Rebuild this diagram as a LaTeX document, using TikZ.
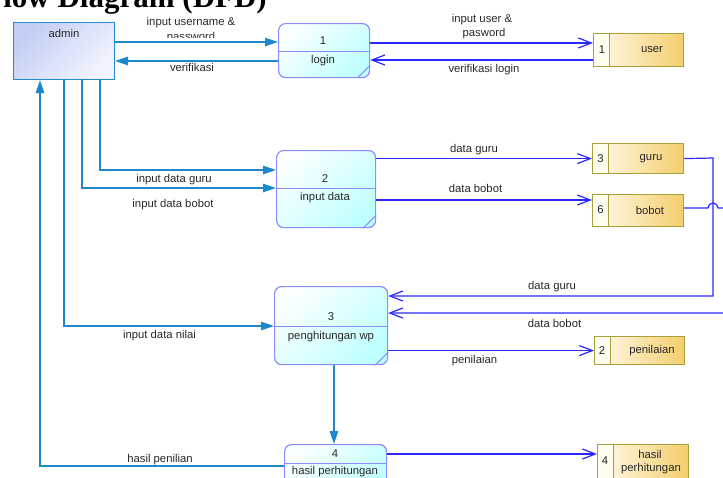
\documentclass[tikz,border=0pt]{standalone}
\usepackage{fontspec}
\setmainfont{Liberation Sans}
\newfontfamily\titlefont{Liberation Serif}
\usetikzlibrary{arrows.meta,calc}

\definecolor{entline}{RGB}{40,138,200}
\definecolor{enttop}{RGB}{194,206,244}
\definecolor{entbot}{RGB}{242,244,253}
\definecolor{procline}{RGB}{140,140,255}
\definecolor{proctop}{RGB}{250,255,255}
\definecolor{procbot}{RGB}{192,255,255}
\definecolor{storeline}{RGB}{168,160,60}
\definecolor{storecell}{RGB}{255,252,240}
\definecolor{storelight}{RGB}{255,250,236}
\definecolor{storegold}{RGB}{244,206,108}
\definecolor{flowa}{RGB}{30,136,204}
\definecolor{flowb}{RGB}{40,40,255}
\definecolor{txtgray}{RGB}{40,40,40}

\begin{document}
\begin{tikzpicture}[x=1pt,y=-1pt,
  txt/.style={text=txtgray, font=\fontsize{11.3}{13}\selectfont, inner sep=0pt},
  entity/.style={draw=entline, line width=1pt, top color=enttop, bottom color=entbot,
    shading angle=45, inner sep=0pt, anchor=north west},
  process/.style={draw=procline, line width=1.2pt, rounded corners=7pt, top color=proctop,
    bottom color=procbot, shading angle=45, inner sep=0pt, anchor=north west},
  store/.style={draw=storeline, line width=1.2pt, left color=storelight, right color=storegold,
    inner sep=0pt, anchor=north west,
    path picture={
      \fill[storecell] (path picture bounding box.north west)
        rectangle ([xshift=16pt]path picture bounding box.south west);
      \draw[storeline, line width=1.2pt] ([xshift=16pt]path picture bounding box.north west)
        -- ([xshift=16pt]path picture bounding box.south west);
    }},
  divider/.style={draw=procline, line width=1pt},
  flowa/.style={draw=flowa, line width=1.2pt, -{Triangle[length=13pt,width=8.5pt]}},
  flowb/.style={draw=flowb, line width=1.2pt, -{Straight Barb[length=13pt,width=10pt]}},
]
\useasboundingbox (0,0) rectangle (723,477);
\clip (0,0) rectangle (723,477);

% heading
\node[anchor=base east, inner sep=0pt, font=\titlefont\bfseries\fontsize{31}{31}\selectfont]
  (title) at (267,7.5) {Data Flow Diagram (DFD)};

% external entity
\node[entity, minimum width=101pt, minimum height=57pt] (admin) at (13,22) {};
\node[txt] (admintxt) at (64,33) {admin};

% processes
\node[process, minimum width=91pt, minimum height=54pt] (p1) at (278,23) {};
\node[process, minimum width=99pt, minimum height=77pt] (p2) at (276,150) {};
\node[process, minimum width=113pt, minimum height=78pt] (p3) at (274,286) {};
\node[process, minimum width=102pt, minimum height=50pt] (p4) at (284,444) {};

\draw[divider] (p1.west |- 0,51) -- (p1.east |- 0,51);
\draw[divider] (p2.west |- 0,188) -- (p2.east |- 0,188);
\draw[divider] (p3.west |- 0,326) -- (p3.east |- 0,326);
\draw[divider] (p4.west |- 0,463) -- (p4.east |- 0,463);

\foreach \p in {p1,p2,p3,p4}
  \draw[divider] ([xshift=-13pt]\p.south east) -- ([yshift=13pt]\p.south east);

\node[txt] (p1n) at (323,41) {1};
\node[txt] (p1t) at (323,61) {login};
\node[txt] (p2n) at (325,179) {2};
\node[txt] (p2t) at (325,198) {input data};
\node[txt] (p3n) at (331,317) {3};
\node[txt] (p3t) at (331,336.5) {penghitungan wp};
\node[txt] (p4n) at (335,454) {4};
\node[txt] (p4t) at (335,472) {hasil perhitungan};

% data stores
\node[store, minimum width=90pt, minimum height=33pt] (s1) at (593,33) {};
\node[store, minimum width=91pt, minimum height=30pt] (s3) at (592,143) {};
\node[store, minimum width=91pt, minimum height=32pt] (s6) at (592,194) {};
\node[store, minimum width=90pt, minimum height=28pt] (s2) at (594,336) {};
\node[store, minimum width=91pt, minimum height=36pt] (s4) at (597,444) {};

\node[txt] (s1n) at (602,50) {1};
\node[txt] (s1t) at (652,50) {user};
\node[txt] (s3n) at (600.5,159) {3};
\node[txt] (s3t) at (651,159) {guru};
\node[txt] (s6n) at (600.5,210) {6};
\node[txt] (s6t) at (650,210) {bobot};
\node[txt] (s2n) at (602,351) {2};
\node[txt] (s2t) at (652,351) {penilaian};
\node[txt] (s4n) at (605,461) {4};
\node[txt] (s4t) at (650,454) {hasil};
\node[txt] (s4u) at (651,469) {perhitungan};

% flows between admin and the processes
\draw[flowa] (admin.east |- 0,42) -- (p1.west |- 0,42);
\draw[flowa] (p1.west |- 0,61) -- (admin.east |- 0,61);
\draw[flowa] (admin.south -| 100,0) |- (p2.west |- 0,170);
\draw[flowa] (admin.south -| 82,0) |- (p2.west |- 0,188);
\draw[flowa] (admin.south -| 64,0) |- (p3.west |- 0,326);
\draw[flowa] (p3.south -| 334,0) -- (p4.north -| 334,0);
\draw[flowa] (p4.west |- 0,466) -| (admin.south -| 40,0);

% flows between processes and data stores
\draw[flowb] (p1.east |- 0,43) -- (s1.west |- 0,43);
\draw[flowb] (s1.west |- 0,60) -- (p1.east |- 0,60);
\draw[flowb] (p2.east |- s3.west) -- (s3.west);
\draw[flowb] (p2.east |- 0,200) -- (s6.west |- 0,200);
\draw[flowb] (s3.east) -- (713,158) |- (p3.east |- 0,296);
\draw[flowb] (s6.east |- 0,208) -- (708,208) arc[start angle=180, end angle=0, radius=5pt]
  -- (740,208) -- (740,313) -- (p3.east |- 0,313);
\draw[flowb] (p3.east |- s2.west) -- (s2.west);
\draw[flowb] (p4.east |- 0,454) -- (s4.west |- 0,454);

% flow labels
\node[txt, anchor=base] (l1a) at (191,25) {input username \&};
\begin{scope}
  \clip (120,0) rectangle (270,37.5);
  \node[txt, anchor=base] (l1b) at (191,40.5) {password};
\end{scope}
\node[txt] (l2) at (192,67) {verifikasi};
\node[txt] (l3a) at (482,20) {input user \&};
\node[txt] (l3b) at (484,34) {pasword};
\node[txt] (l4) at (484,70) {verifikasi login};
\node[txt] (l5) at (174,179.5) {input data guru};
\node[txt] (l6) at (173,205) {input data bobot};
\node[txt] (l7) at (474,150) {data guru};
\node[txt] (l8) at (475.5,188.5) {data bobot};
\node[txt] (l9) at (552,286.5) {data guru};
\node[txt] (l10) at (554.5,323) {data bobot};
\node[txt] (l11) at (474.5,361) {penilaian};
\node[txt] (l12) at (159.5,336) {input data nilai};
\node[txt] (l13) at (160,460) {hasil penilian};
\end{tikzpicture}
\end{document}
